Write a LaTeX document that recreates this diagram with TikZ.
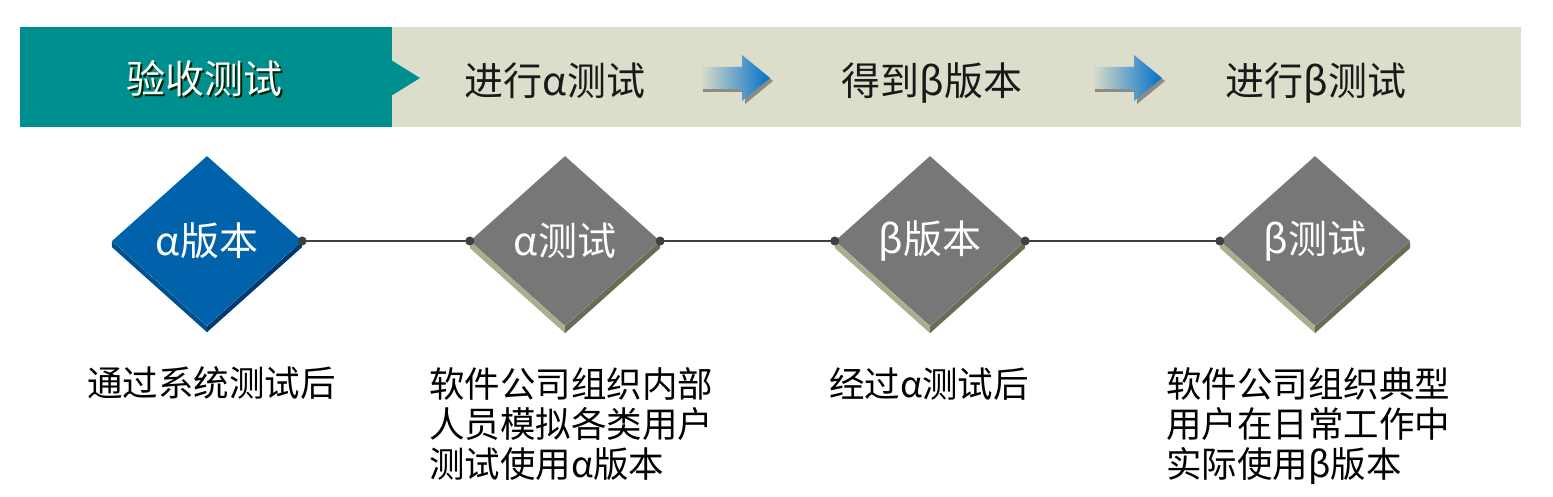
\documentclass[tikz,border=0pt]{standalone}
\usepackage{fontspec}
\setmainfont{Noto Sans CJK SC}
\usetikzlibrary{shapes.geometric}
\definecolor{bandteal}{HTML}{008F8F}
\definecolor{bandbeige}{HTML}{DDDDCB}
\definecolor{dgray}{HTML}{777777}
\definecolor{sidelight}{HTML}{A9AE8C}
\definecolor{sidedark}{HTML}{6A6D55}
\definecolor{dblue}{HTML}{0062AA}
\definecolor{bsidel}{HTML}{00508E}
\definecolor{bsided}{HTML}{003A6E}
\definecolor{linegray}{HTML}{404040}
\definecolor{arrowblue}{HTML}{0070C8}
\definecolor{arrowshadow}{HTML}{8C8C84}
\tikzset{
  headtxt/.style={font=\fontsize{39}{42}\selectfont, inner sep=0pt, anchor=base, text=black!90},
  dia/.style={diamond, minimum width=190pt, minimum height=170pt, inner sep=0pt, draw=none,
              text=white, font=\fontsize{39}{42}\selectfont},
  btxt/.style={font=\fontsize{35.5}{40}\selectfont, inner sep=0pt, anchor=base west, text=black},
  conn/.style={draw=linegray, line width=1.5pt},
  dot/.style={circle, fill=linegray, inner sep=0pt, minimum size=9pt},
  gradarrow/.pic={
    \fill[arrowshadow] (3,-8) -- (45,-8) -- (45,-20) -- (73,3) -- (45,26) -- (45,14) -- (3,14) -- cycle;
    \shade[left color=bandbeige, right color=arrowblue]
      (0,-11) -- (42,-11) -- (42,-23) -- (70,0) -- (42,23) -- (42,11) -- (0,11) -- cycle;
  }
}
\begin{document}
\begin{tikzpicture}[x=1pt,y=-1pt]
\useasboundingbox (0,0) rectangle (1553,497);
% header band
\fill[bandbeige] (392,27) rectangle (1521,127);
\fill[bandteal] (20,27) rectangle (392,127);
\fill[bandteal] (391,60) -- (420,78) -- (391,96) -- cycle;
\node[headtxt, text=black!85!green] at (206,96) {验收测试};
\node[headtxt, text=white] (h1) at (204,94) {验收测试};
\node[headtxt] (h2) at (555,96) {进行α测试};
\node[headtxt] (h3) at (932,96) {得到β版本};
\node[headtxt] (h4) at (1316,96) {进行β测试};
\pic at (700,78) {gradarrow};
\pic at (1092,78) {gradarrow};
% diamonds
\node[dia, fill=dblue] (d1) at (207,241) {α版本};
\node[dia, fill=dgray] (d2) at (565,241) {α测试};
\node[dia, fill=dgray] (d3) at (930,241) {β版本};
\node[dia, fill=dgray] (d4) at (1315,241) {β测试};
% extrusions
\fill[bsidel] (d1.west) -- (d1.south) -- ([yshift=-6pt]d1.south) -- ([yshift=-6pt]d1.west) -- cycle;
\fill[bsided] (d1.east) -- (d1.south) -- ([yshift=-6pt]d1.south) -- ([yshift=-6pt]d1.east) -- cycle;
\foreach \d in {d2,d3,d4}{
  \fill[sidelight] (\d.west) -- (\d.south) -- ([yshift=-7pt]\d.south) -- ([yshift=-7pt]\d.west) -- cycle;
  \fill[sidedark] (\d.east) -- (\d.south) -- ([yshift=-7pt]\d.south) -- ([yshift=-7pt]\d.east) -- cycle;
}
% connectors
\draw[conn] (d1.east) -- (d2.west);
\draw[conn] (d2.east) -- (d3.west);
\draw[conn] (d3.east) -- (d4.west);
\foreach \d in {d1,d2,d3}{ \node[dot] at (\d.east) {}; }
\foreach \d in {d2,d3,d4}{ \node[dot] at (\d.west) {}; }
% bottom texts
\node[btxt] (t1) at (87,396) {通过系统测试后};
\node[btxt] (t2a) at (429,397) {软件公司组织内部};
\node[btxt] (t2b) at (429,437) {人员模拟各类用户};
\node[btxt] (t2c) at (429,477) {测试使用α版本};
\node[btxt] (t3) at (829,397) {经过α测试后};
\node[btxt] (t4a) at (1166,397) {软件公司组织典型};
\node[btxt] (t4b) at (1166,437) {用户在日常工作中};
\node[btxt] (t4c) at (1166,477) {实际使用β版本};
\end{tikzpicture}
\end{document}
